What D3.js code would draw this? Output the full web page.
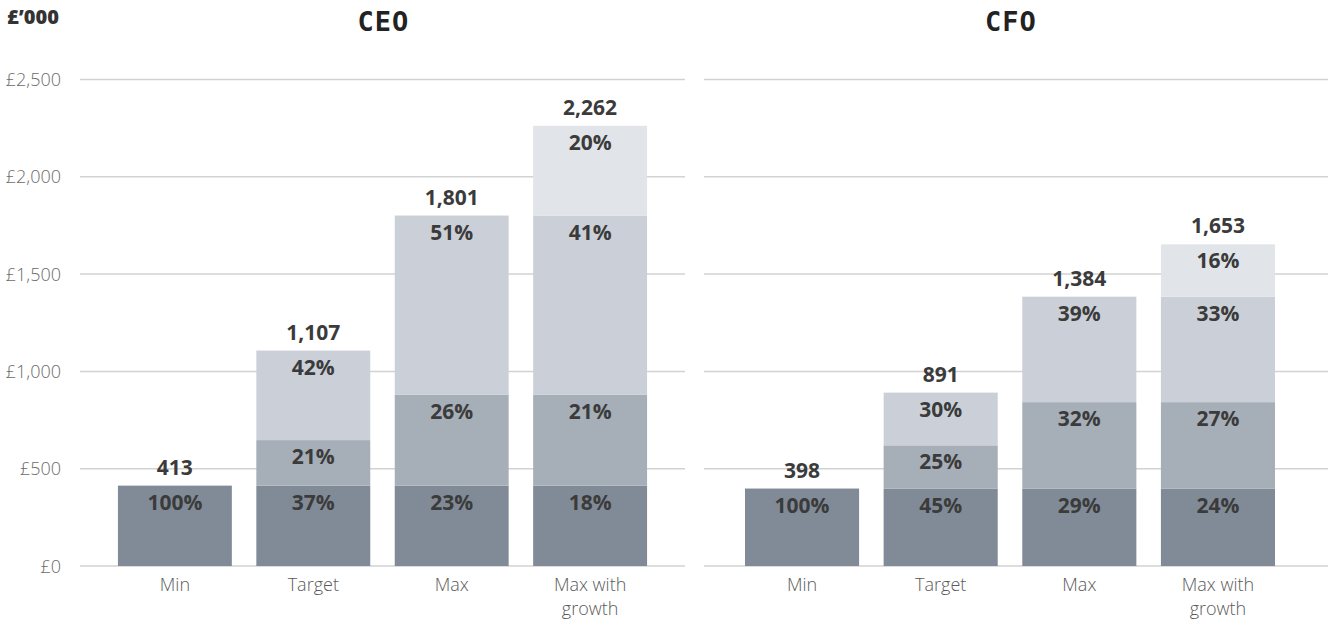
<!DOCTYPE html>
<html>
<head>
<meta charset="utf-8">
<script src="https://cdn.jsdelivr.net/npm/d3@7/dist/d3.min.js"></script>
<style>
  html, body { margin: 0; padding: 0; background: #fff; }
  svg { display: block; font-family: "Open Sans", "Noto Sans", sans-serif; }
</style>
</head>
<body>
<svg id="chart" width="1328" height="623"></svg>
<script>
// Remuneration scenarios, £'000
const scenarios = ["Min", "Target", "Max", "Max with growth"];
const components = ["fixed", "bonus", "ltip", "growth"];

const ceoFixed  = [413, 413, 413, 413];
const ceoBonus  = [0, 234, 468, 468];
const ceoLtip   = [0, 460, 920, 920];
const ceoGrowth = [0, 0, 0, 461];

const cfoFixed  = [398, 398, 398, 398];
const cfoBonus  = [0, 222, 444, 444];
const cfoLtip   = [0, 271, 542, 542];
const cfoGrowth = [0, 0, 0, 269];

const yTicks = [0, 500, 1000, 1500, 2000, 2500];

const colors = {
  fixed: "#818b97",
  bonus: "#a6aeb7",
  ltip: "#cbd0d8",
  growth: "#e1e4e8"
};

function rows(fixed, bonus, ltip, growth) {
  return scenarios.map((s, i) => ({
    scenario: s, fixed: fixed[i], bonus: bonus[i], ltip: ltip[i], growth: growth[i]
  }));
}

const panels = [
  { title: "CEO", data: rows(ceoFixed, ceoBonus, ceoLtip, ceoGrowth),
    band: [80, 685], grid: [80, 685] },
  { title: "CFO", data: rows(cfoFixed, cfoBonus, cfoLtip, cfoGrowth),
    band: [707, 1313], grid: [704, 1328] }
];

const svg = d3.select("#chart");

const y = d3.scaleLinear().domain([0, 2500]).range([566, 79.5]);

// Unit header
svg.append("text")
  .attr("x", 7).attr("y", 24)
  .style("font-family", "'Open Sans', sans-serif")
  .attr("font-size", 20).attr("font-weight", 800).attr("fill", "#333")
  .text("£’000");

// Value axis labels
const yAxis = d3.axisLeft(y)
  .tickValues(yTicks)
  .tickSize(0)
  .tickPadding(0)
  .tickFormat(d => "£" + d3.format(",")(d));

const yAxisG = svg.append("g")
  .attr("transform", "translate(61,0)")
  .call(yAxis);
yAxisG.select(".domain").remove();
yAxisG.selectAll("text")
  .style("font-family", "'Open Sans', sans-serif")
  .style("font-size", "18px").style("font-weight", 300)
  .attr("fill", "#6b6b6b")
  .attr("dy", "0.34em");

const stack = d3.stack().keys(components);

panels.forEach(p => {
  const g = svg.append("g");
  const x = d3.scaleBand()
    .domain(scenarios)
    .range(p.band)
    .paddingInner(0.177)
    .paddingOuter(0.274);

  // gridlines
  g.selectAll("line.grid")
    .data(yTicks)
    .join("line")
    .attr("class", "grid")
    .attr("x1", p.grid[0]).attr("x2", p.grid[1])
    .attr("y1", d => y(d)).attr("y2", d => y(d))
    .attr("stroke", "#d2d2d2").attr("stroke-width", 1.5);

  // title
  g.append("text")
    .attr("x", (p.band[0] + p.band[1]) / 2 + 1)
    .attr("y", 31)
    .attr("text-anchor", "middle")
    .style("font-family", "'DejaVu Sans Mono', monospace")
    .style("font-size", "27px").style("font-weight", 700)
    .style("letter-spacing", "1px")
    .attr("fill", "#222")
    .text(p.title);

  const series = stack(p.data);
  const totals = p.data.map(d => components.reduce((a, k) => a + d[k], 0));

  series.forEach(s => {
    const segs = s.filter(d => d[1] - d[0] > 0);
    g.selectAll(null)
      .data(segs)
      .join("rect")
      .attr("x", d => x(d.data.scenario))
      .attr("width", x.bandwidth())
      .attr("y", d => y(d[1]))
      .attr("height", d => y(d[0]) - y(d[1]))
      .attr("fill", colors[s.key]);

    g.selectAll(null)
      .data(segs)
      .join("text")
      .attr("x", d => x(d.data.scenario) + x.bandwidth() / 2)
      .attr("y", d => y(d[1]) + 24)
      .attr("text-anchor", "middle")
      .attr("font-size", 21).attr("font-weight", 700)
      .attr("fill", "#3b3b3b")
      .text(d => {
        const total = components.reduce((a, k) => a + d.data[k], 0);
        return Math.round((d[1] - d[0]) / total * 100) + "%";
      });
  });

  // totals above bars
  g.selectAll(null)
    .data(p.data)
    .join("text")
    .attr("x", d => x(d.scenario) + x.bandwidth() / 2)
    .attr("y", (d, i) => y(totals[i]) - 11)
    .attr("text-anchor", "middle")
    .attr("font-size", 21).attr("font-weight", 700)
    .attr("fill", "#3b3b3b")
    .text((d, i) => d3.format(",")(totals[i]));

  // category axis
  const xAxis = d3.axisBottom(x).tickSize(0).tickPadding(0);
  const xg = g.append("g").attr("transform", "translate(0,566)").call(xAxis);
  xg.select(".domain").remove();
  xg.selectAll(".tick text").each(function(d) {
    const t = d3.select(this);
    t.text(null)
      .style("font-family", "'Open Sans', sans-serif")
      .style("font-size", "18px").style("font-weight", 300)
      .attr("fill", "#5a5a5a")
      .attr("dy", null)
      .attr("y", 25);
    const lines = d === "Max with growth" ? ["Max with", "growth"] : [d];
    lines.forEach((ln, i) => {
      t.append("tspan").attr("x", 0).attr("y", 25 + i * 23.5).text(ln);
    });
  });
});
</script>
</body>
</html>
